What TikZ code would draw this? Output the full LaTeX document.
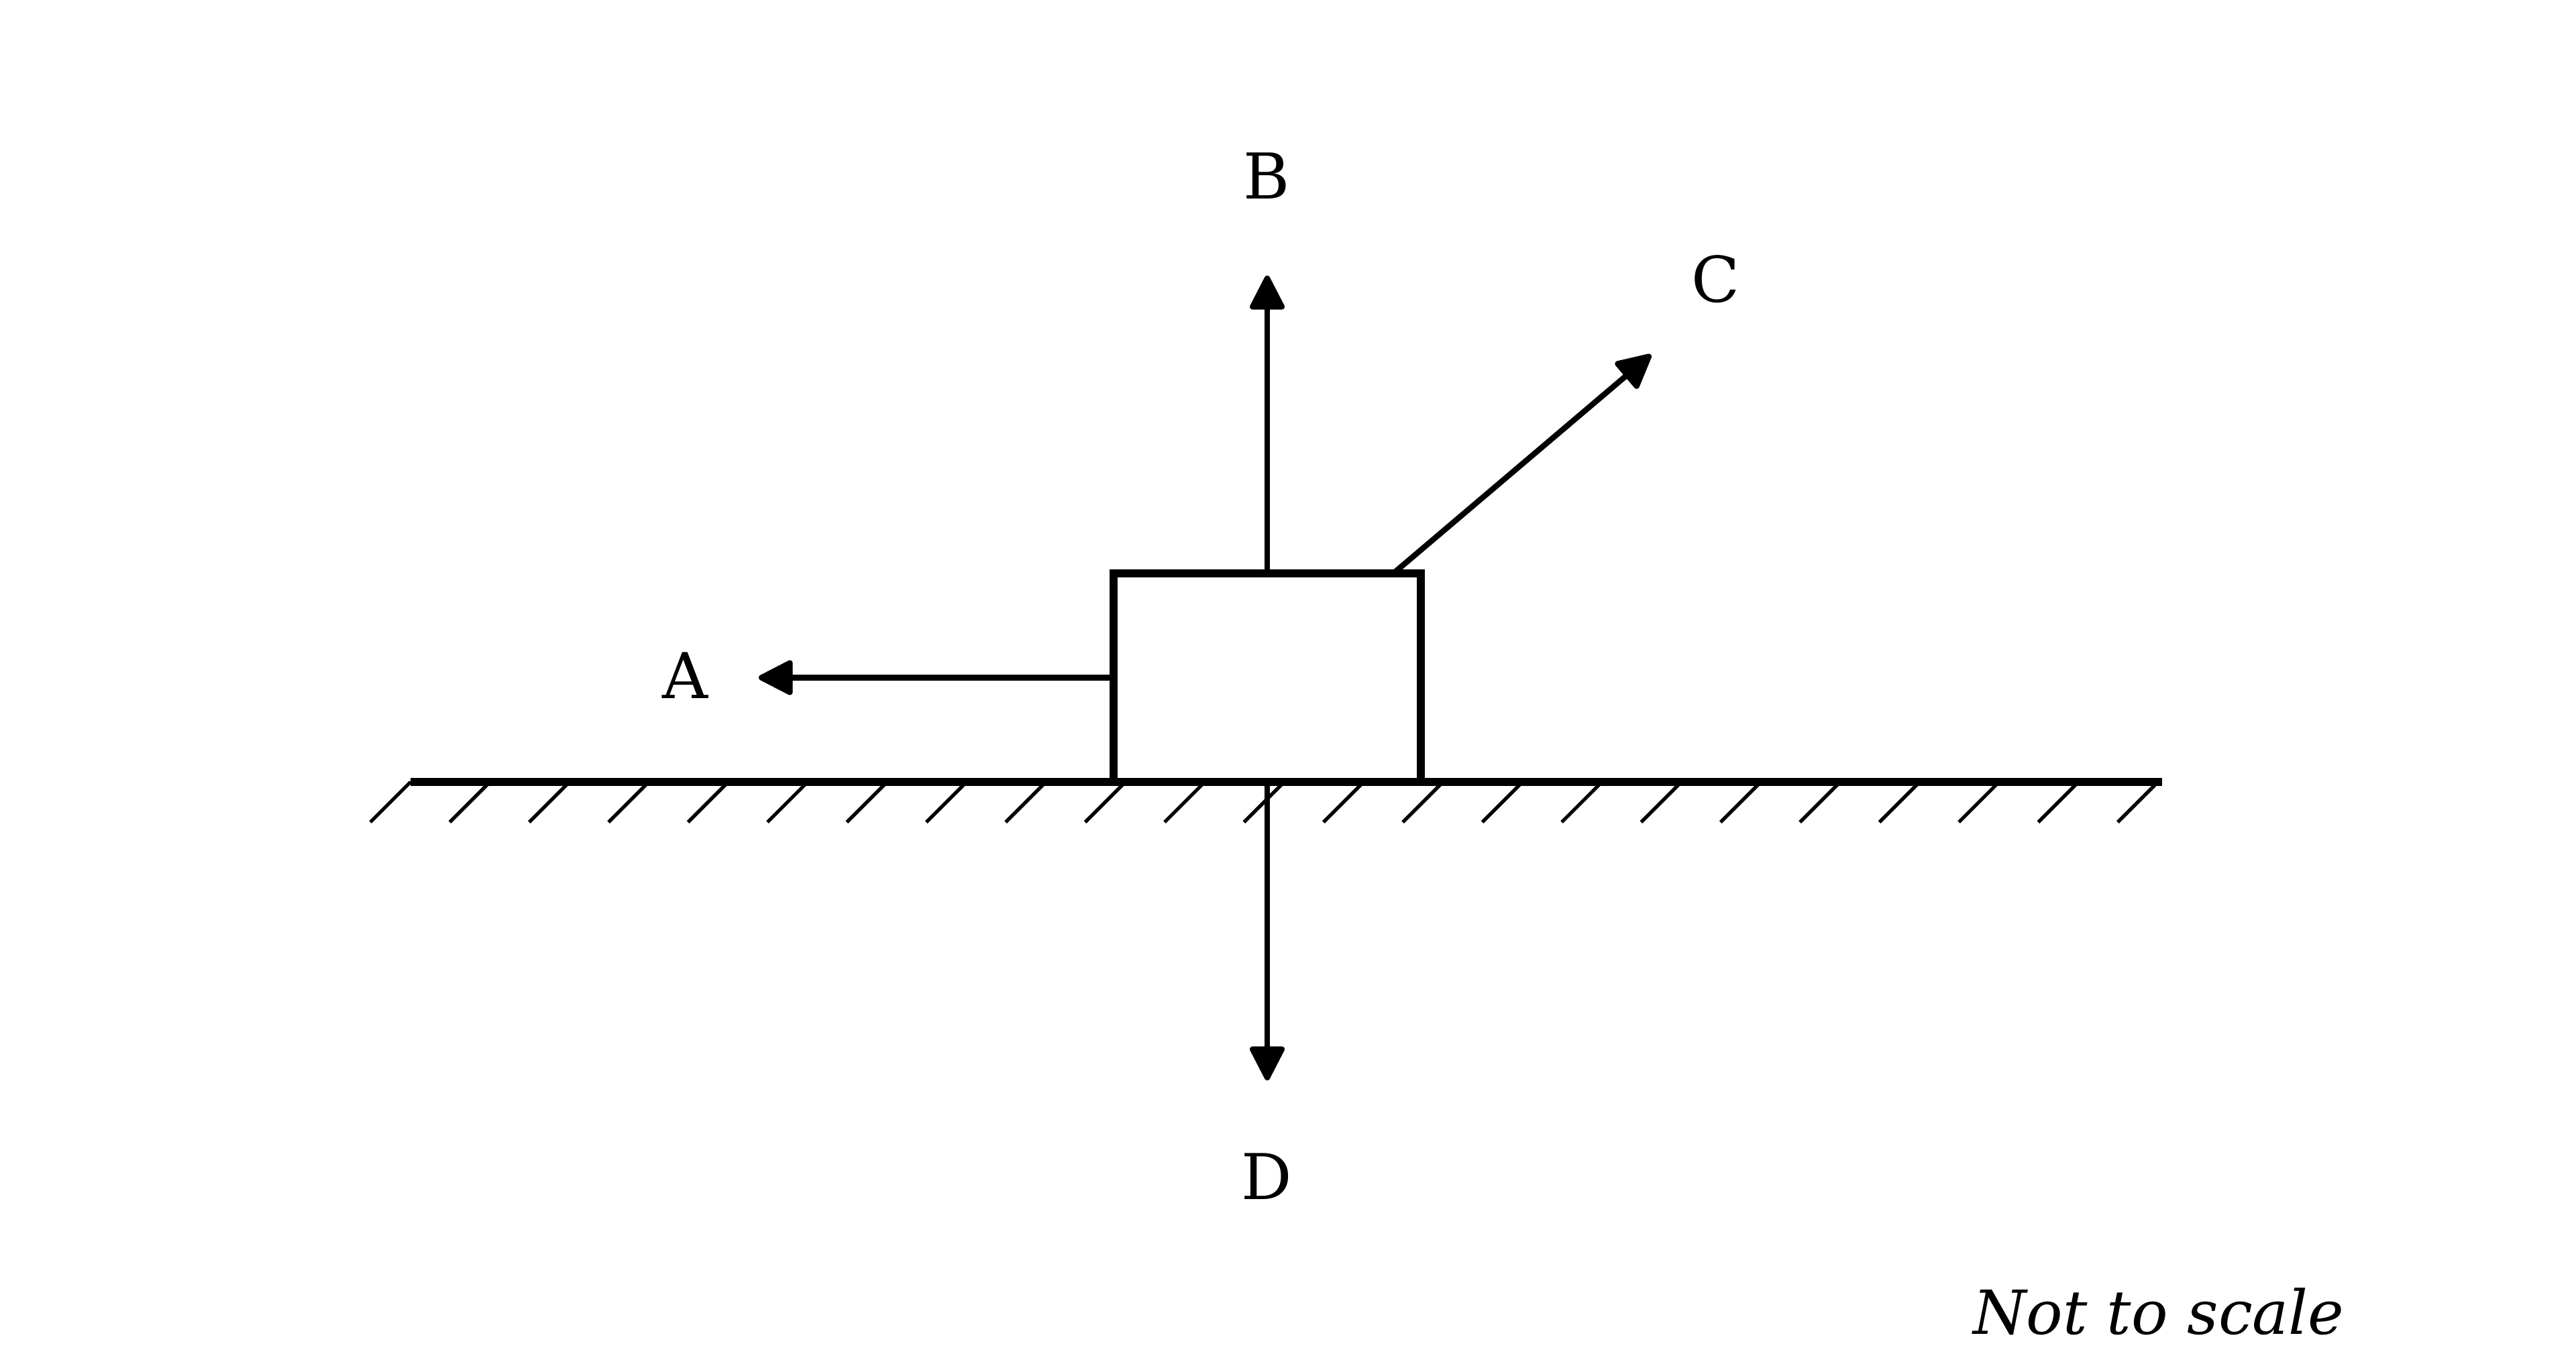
\documentclass[tikz,border=0pt]{standalone}
\usepackage{fontspec}
\setmainfont{DejaVu Serif}
\usetikzlibrary{arrows.meta}
\tikzset{
  force/.style={line width=1.2pt,line cap=round,-{Triangle[length=0.28cm,width=0.275cm,round]}},
  lbl/.style={font=\fontsize{13.4}{16}\selectfont},
}
\begin{document}
\begin{tikzpicture}
\useasboundingbox (0,0) rectangle (19.2,10.11);
\node[draw,line width=1.7pt,minimum width=2.29cm,minimum height=1.555cm,inner sep=0,outer sep=0,anchor=south] (box) at (9.445,4.28) {};
\coordinate (gl) at (3.06,4.28);
\coordinate (gr) at (16.115,4.28);
\draw[line width=1.7pt] (gl) -- (gr);
\foreach \i in {0,...,22}
  \draw[line width=0.75pt] (3.06+\i*0.592,4.28) -- ++(-0.3,-0.3);
\coordinate (tipA) at (5.655,5.0575);
\coordinate (tipB) at (9.445,8.055);
\coordinate (tipC) at (12.305,7.465);
\coordinate (tipD) at (9.445,2.055);
\draw[force] (box.west) -- (tipA);
\draw[force] (box.north) -- (tipB);
\draw[force] ([xshift=-0.205cm]box.north east) -- (tipC);
\draw[force] (box.south) -- (tipD);
\node[lbl] (A) at (5.105,5.075) {A};
\node[lbl] (B) at (9.44,8.8) {B};
\node[lbl] (C) at (12.785,8.03) {C};
\node[lbl] (D) at (9.44,1.34) {D};
\node[font=\fontsize{12.9}{15}\selectfont\itshape] (note) at (16.09,0.33) {Not to scale};
\end{tikzpicture}
\end{document}
